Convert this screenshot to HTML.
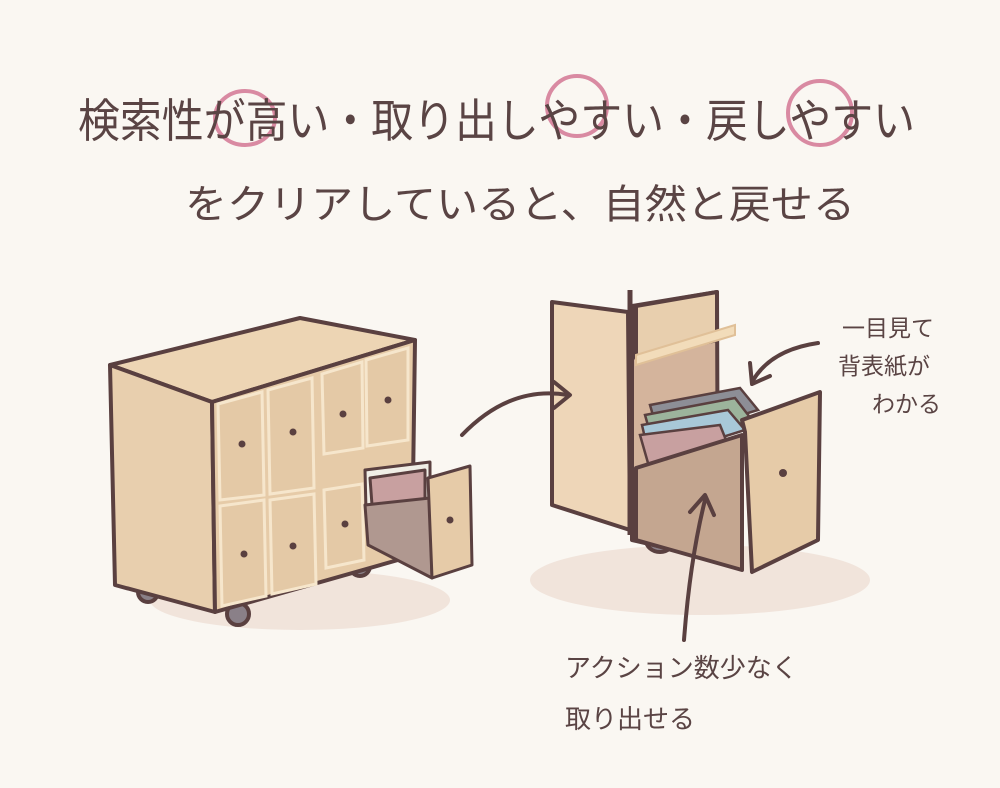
<!DOCTYPE html>
<html><head><meta charset="utf-8"><style>
html,body{margin:0;padding:0;background:#faf7f2;}
svg{display:block}
text{font-family:"Liberation Sans","Noto Sans CJK JP",sans-serif;fill:#5a4444}
</style></head><body>
<svg width="1000" height="788" viewBox="0 0 1000 788" xmlns="http://www.w3.org/2000/svg">
<rect width="1000" height="788" fill="#faf7f2"/>
<!-- title -->
<g fill="none" stroke="#d98aa2" stroke-width="4">
<ellipse cx="245" cy="118" rx="30" ry="27"/>
<ellipse cx="577" cy="106" rx="30" ry="30"/>
<ellipse cx="820" cy="113" rx="32" ry="32"/>
</g>
<text x="78" y="137" font-size="46" textLength="837" lengthAdjust="spacingAndGlyphs">検索性が高い・取り出しやすい・戻しやすい</text>
<text x="185" y="218" font-size="40" textLength="670" lengthAdjust="spacingAndGlyphs">をクリアしていると、自然と戻せる</text>
<!-- shadows -->
<ellipse cx="300" cy="600" rx="150" ry="30" fill="#ecdcd2" opacity="0.7"/>
<ellipse cx="700" cy="580" rx="170" ry="35" fill="#ecdcd2" opacity="0.7"/>
<!-- left cabinet -->
<g stroke="#5a4040" stroke-width="4" stroke-linejoin="round">
<circle cx="148" cy="592" r="10" fill="#8a8088"/>
<circle cx="238" cy="614" r="11" fill="#8a8088"/>
<circle cx="360" cy="566" r="10" fill="#8a8088"/>
<polygon points="110,365 300,318 415,340 212,402" fill="#edd5b4"/>
<polygon points="110,365 212,402 215,612 115,585" fill="#e8cfae"/>
<polygon points="212,402 415,340 412,556 215,612" fill="#e6cba8"/>
</g>
<g stroke="#f6e6cc" stroke-width="3" fill="#e4c9a6">
<polygon points="218,404 262,392 264,495 220,500"/>
<polygon points="268,390 312,378 314,488 270,494"/>
<polygon points="322,374 362,362 363,448 324,454"/>
<polygon points="366,360 408,348 408,440 367,446"/>
<polygon points="220,506 264,500 266,596 222,606"/>
<polygon points="270,500 314,494 316,584 272,594"/>
<polygon points="324,490 362,484 364,560 326,568"/>
</g>
<g fill="#5a4040">
<circle cx="242" cy="444" r="3.5"/><circle cx="293" cy="432" r="3.5"/>
<circle cx="343" cy="414" r="3.5"/><circle cx="388" cy="400" r="3.5"/>
<circle cx="244" cy="554" r="3.5"/><circle cx="293" cy="546" r="3.5"/>
<circle cx="345" cy="524" r="3.5"/>
</g>
<!-- pulled drawer left -->
<g stroke="#5a4040" stroke-width="3" stroke-linejoin="round">
<polygon points="365,470 430,462 430,505 366,510" fill="#f0eee6"/>
<polygon points="370,478 425,470 425,500 372,505" fill="#c8a0a0"/>
<polygon points="365,505 430,498 432,578 368,545" fill="#b09890"/>
<polygon points="428,478 470,466 472,565 432,578" fill="#e6cba8"/>
</g>
<circle cx="450" cy="520" r="3.5" fill="#5a4040"/>
<!-- right cabinet -->
<g stroke="#5a4040" stroke-width="4" stroke-linejoin="round">
<ellipse cx="660" cy="540" rx="14" ry="12" fill="#8a8088"/>
<polygon points="552,302 628,312 630,530 552,505" fill="#eed6b8"/>
<polygon points="632,306 717,292 718,560 632,540" fill="#d4b49c"/>
<polygon points="636,306 717,292 717,340 636,358" fill="#e8cfae"/>
</g>
<polygon points="636,355 735,325 735,335 636,365" fill="#f2dcba" stroke="#e0c098" stroke-width="2"/>
<g stroke="#5a4040" stroke-width="2.5">
<polygon points="650,405 740,388 758,410 660,440" fill="#8d8e96"/>
<polygon points="645,415 735,398 752,420 655,450" fill="#9cb49c"/>
<polygon points="642,425 728,410 745,430 650,460" fill="#a8c8d8"/>
<polygon points="640,435 720,425 730,450 650,470" fill="#c8a0a0"/>
</g>
<g stroke="#5a4040" stroke-width="4" stroke-linejoin="round">
<polygon points="636,468 742,435 742,570 636,540" fill="#c4a690"/>
<polygon points="742,420 820,392 818,540 752,572 745,432" fill="#e6cba8"/>
</g>
<line x1="630" y1="290" x2="630" y2="535" stroke="#5a4040" stroke-width="5"/>
<circle cx="783" cy="473" r="4" fill="#5a4040"/>
<!-- arrows -->
<g fill="none" stroke="#5a4040" stroke-width="4" stroke-linecap="round" stroke-linejoin="round">
<path d="M462,435 Q510,385 568,395"/><path d="M554,382 L570,395 L554,408"/>
<path d="M818,343 Q770,350 752,382"/><path d="M750,363 L752,384 L770,376"/>
<path d="M684,640 Q690,560 705,500"/><path d="M690,512 L705,495 L714,515"/>
</g>
<text x="842" y="336" font-size="23">一目見て</text>
<text x="838" y="374" font-size="23">背表紙が</text>
<text x="872" y="412" font-size="23">わかる</text>
<text x="565" y="677" font-size="26">アクション数少なく</text>
<text x="565" y="728" font-size="26">取り出せる</text>
</svg>
</body></html>
